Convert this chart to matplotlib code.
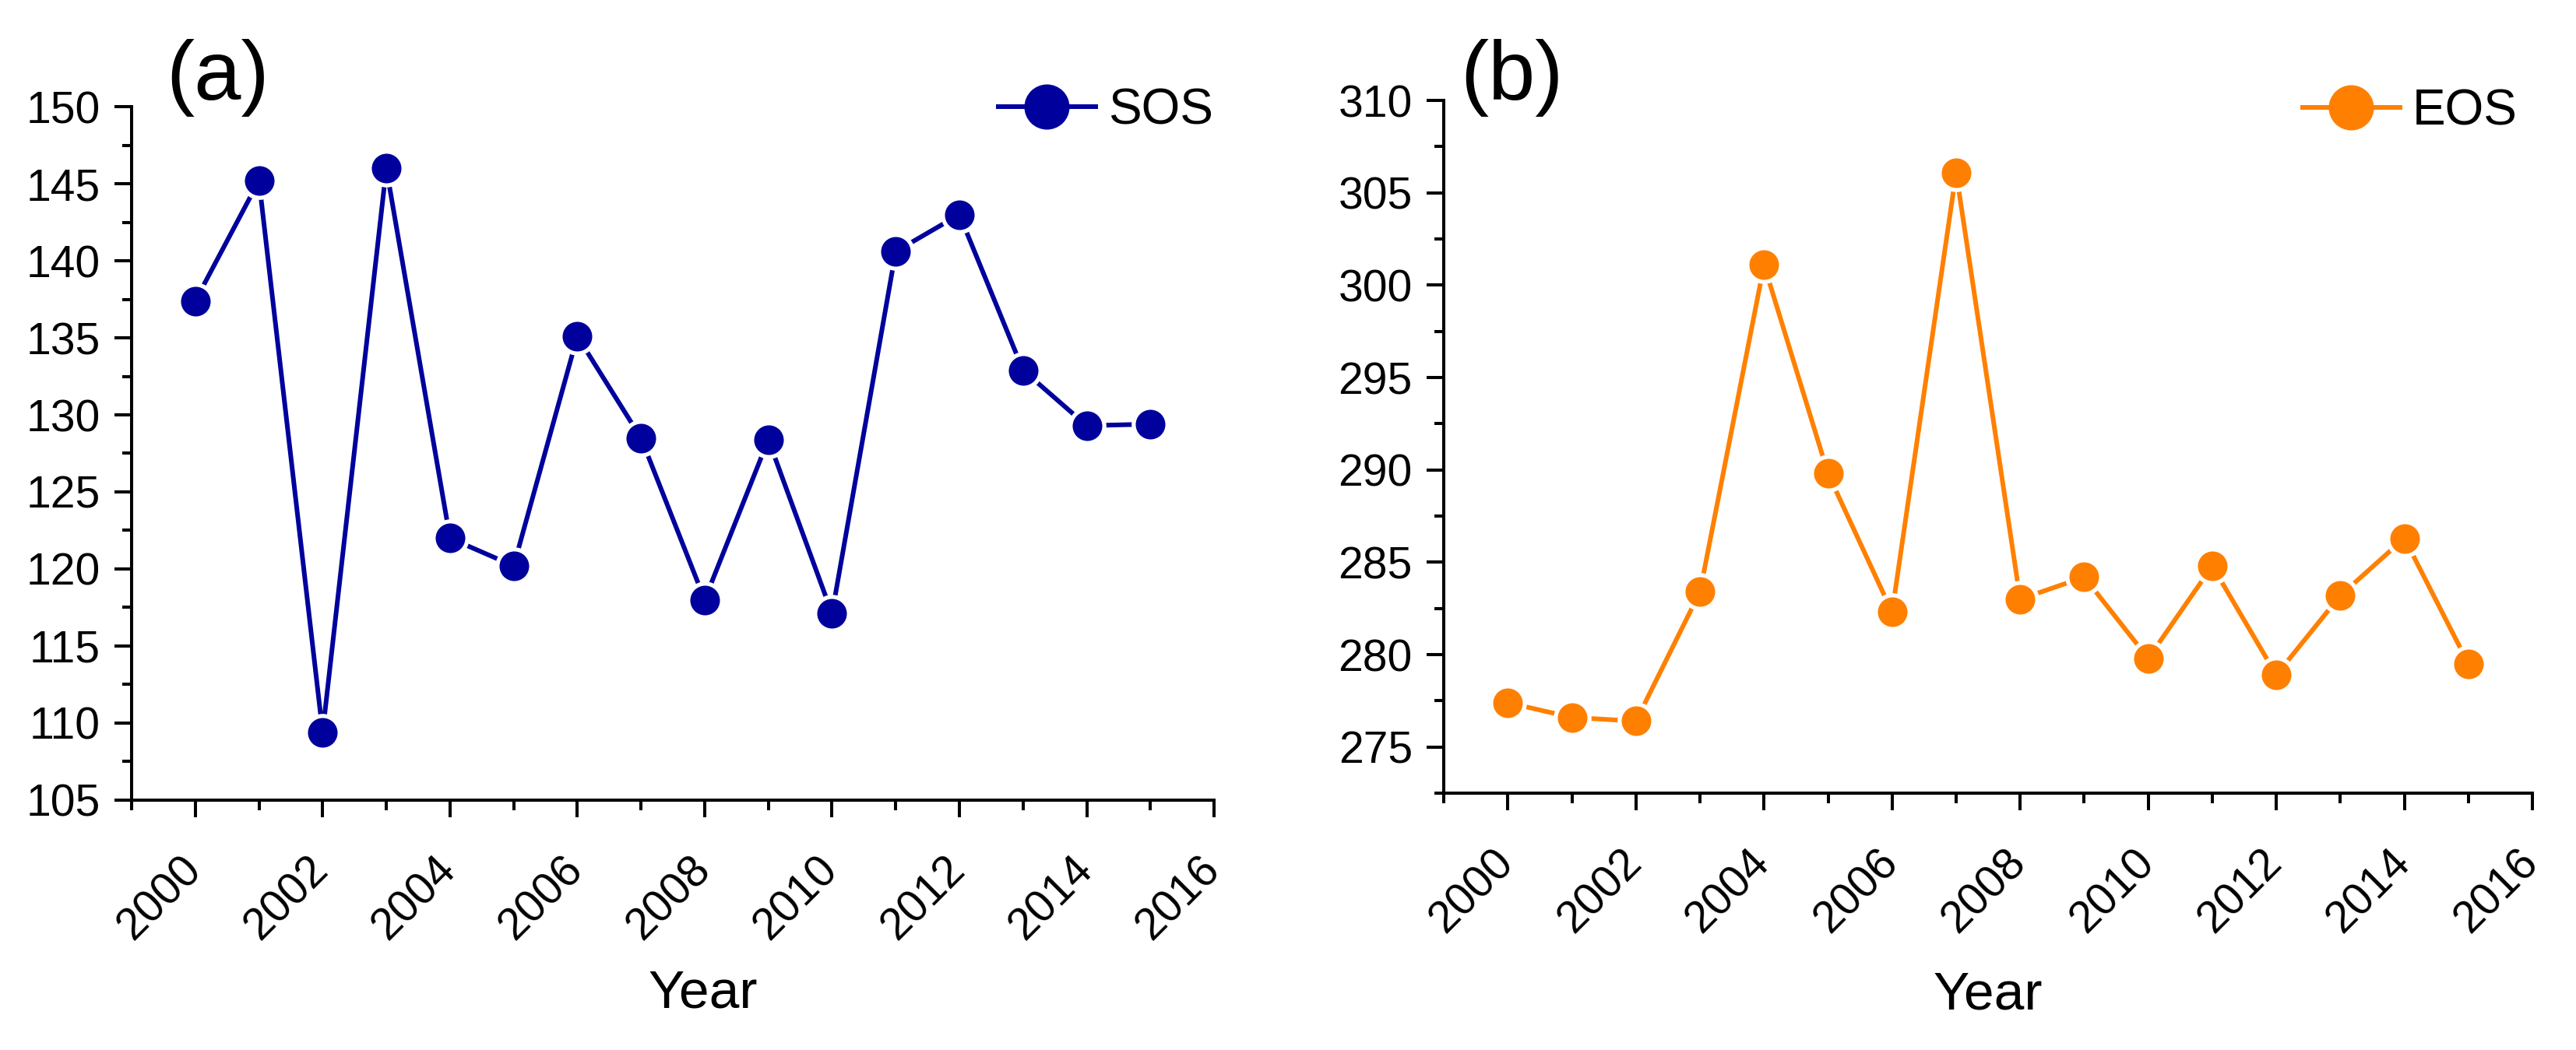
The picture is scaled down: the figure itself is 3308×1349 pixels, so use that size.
import matplotlib
matplotlib.use('Agg')
import matplotlib.pyplot as plt
from matplotlib.lines import Line2D
from matplotlib.ticker import MultipleLocator, FixedLocator
import matplotlib.transforms as mtransforms

# ---- data ----
years = list(range(2000, 2016))
sos = [137.4, 145.2, 109.4, 146.0, 122.0, 120.2, 135.1, 128.5,
       118.0, 128.4, 117.1, 140.6, 143.0, 132.9, 129.3, 129.4]
eos = [277.4, 276.6, 276.4, 283.4, 301.1, 289.8, 282.3, 306.1,
       283.0, 284.2, 279.8, 284.8, 278.9, 283.2, 286.3, 279.5]
sos_label = 'SOS'
eos_label = 'EOS'
panel_labels = ['(a)', '(b)']
x_label = 'Year'
x_ticks = list(range(2000, 2017, 2))
sos_yticks = list(range(105, 151, 5))
eos_yticks = list(range(275, 311, 5))

plt.rcParams['font.family'] = ['Liberation Sans', 'DejaVu Sans']

DPI = 100
fig = plt.figure(figsize=(33.08, 13.49), dpi=DPI)
ax_a = fig.add_axes([0.0511, 0.2380, 0.4202, 0.6604])
ax_b = fig.add_axes([0.5605, 0.2446, 0.4226, 0.6597])

NAVY = '#00009C'
ORANGE = '#FF8000'
LW = 4.3


def style(ax, values, color, label, ylim, yticks, leg_anchor, xlab_coords):
    ax.plot(years, values, color=color, lw=LW, zorder=2)
    ax.plot(years, values, 'o', ms=35, mfc='white', mec='none', zorder=3)
    ax.plot(years, values, 'o', ms=27.4, mfc=color, mec='none', zorder=4)

    ax.set_xlim(1999, 2016)
    ax.set_ylim(*ylim)
    ax.xaxis.set_major_locator(FixedLocator(x_ticks))
    ax.xaxis.set_minor_locator(MultipleLocator(1))
    ax.yaxis.set_major_locator(FixedLocator(yticks))
    ax.yaxis.set_minor_locator(MultipleLocator(2.5))

    for s in ['top', 'right']:
        ax.spines[s].set_visible(False)
    for s in ['left', 'bottom']:
        ax.spines[s].set_linewidth(2.9)

    ax.tick_params(axis='both', which='major', direction='out', length=16,
                   width=2.9, labelsize=41, color='black')
    ax.tick_params(axis='both', which='minor', direction='out', length=9,
                   width=2.9)
    ax.tick_params(axis='y', which='major', pad=13)
    ax.tick_params(axis='x', which='major', pad=29)

    ax.set_xticklabels([str(t) for t in x_ticks], rotation=45, ha='right')
    offset = mtransforms.ScaledTranslation(18 / DPI, 0, fig.dpi_scale_trans)
    for lab in ax.get_xticklabels():
        lab.set_transform(lab.get_transform() + offset)

    ax.set_xlabel(x_label, fontsize=50)
    ax.xaxis.set_label_coords(*xlab_coords)

    handle = Line2D([], [], color=color, lw=LW, marker='o', ms=41.8,
                    mfc=color, mec='none')
    ax.legend([handle], [label], loc='center left', bbox_to_anchor=leg_anchor,
              frameon=False, fontsize=46, handlelength=1.95,
              handletextpad=0.25, borderpad=0, borderaxespad=0)


style(ax_a, sos, NAVY, sos_label, (105, 150), sos_yticks,
      (0.8007, 0.9944), (0.528, -0.243))
style(ax_b, eos, ORANGE, eos_label, (272.5, 310), eos_yticks,
      (0.789, 0.984), (0.5, -0.256))

fig.text(0.0644, 0.905, panel_labels[0], fontsize=78, va='baseline')
fig.text(0.5668, 0.905, panel_labels[1], fontsize=78, va='baseline')

fig.savefig('out.png', dpi=DPI, facecolor='white')
